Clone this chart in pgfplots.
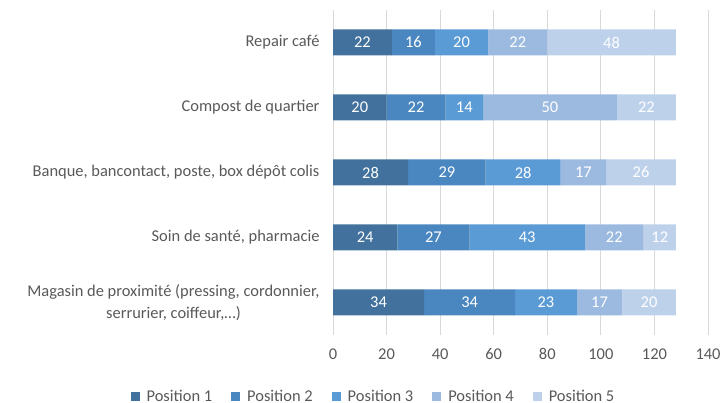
\documentclass[border=0pt]{standalone}
\usepackage{pgfplots}
\pgfplotsset{compat=1.18}
\usepackage{fontspec}
\setmainfont{Carlito}
\definecolor{c1}{HTML}{41719C}
\definecolor{c2}{HTML}{4A86BF}
\definecolor{c3}{HTML}{5B9BD5}
\definecolor{c4}{HTML}{9CBAE0}
\definecolor{c5}{HTML}{BDD1EB}
\definecolor{txt}{HTML}{595959}
\definecolor{gridc}{HTML}{D9D9D9}
\pgfplotstableread{
y p1 p2 p3 p4 p5
0 34 34 23 17 20
1 24 27 43 22 12
2 28 29 28 17 26
3 20 22 14 50 22
4 22 16 20 22 48
}\data
\begin{document}
\begin{tikzpicture}
\useasboundingbox (0,0) rectangle (721bp,403bp);
\begin{axis}[at={(333bp,68bp)}, anchor=south west, scale only axis,
  width=375bp, height=325bp,
  xbar stacked, bar width=26bp,
  xmin=0, xmax=140, ymin=-0.5, ymax=4.5,
  xtick={0,20,...,140}, ytick={0,1,2,3,4},
  yticklabels={{Magasin de proximité (pressing, cordonnier,\\serrurier, coiffeur,\ldots)},
    {Soin de santé, pharmacie},
    {Banque, bancontact, poste, box dépôt colis},
    {Compost de quartier},
    {Repair café}},
  axis line style={draw=none},
  major tick length=0pt,
  xmajorgrids, grid style={gridc, line width=0.75bp},
  tick label style={font=\fontsize{16.5}{22}\selectfont, text=txt},
  yticklabel style={align=center, xshift=-10bp},
  xticklabel style={yshift=-10bp},
  /pgf/number format/assume math mode=true,
  every axis plot/.append style={draw=none},
  visualization depends on=rawx \as \rawx,
  nodes near coords={\pgfmathprintnumber{\rawx}},
  every node near coord/.append style={anchor=center, text=white,
    font=\fontsize{16.5}{20}\selectfont},
  legend style={at={(0.108,-0.188)}, anchor=center, draw=none,
    font=\fontsize{16.5}{20}\selectfont, text=txt,
    /tikz/every odd column/.append style={column sep=5bp},
    /tikz/every even column/.append style={column sep=17bp}},
  legend columns=5,
  legend image code/.code={\fill[#1] (0bp,-4.5bp) rectangle (9bp,4.5bp);},
]
\addplot[fill=c1] table[x=p1,y=y]{\data};
\addplot[fill=c2] table[x=p2,y=y]{\data};
\addplot[fill=c3] table[x=p3,y=y]{\data};
\addplot[fill=c4] table[x=p4,y=y]{\data};
\addplot[fill=c5] table[x=p5,y=y]{\data};
\legend{Position 1,Position 2,Position 3,Position 4,Position 5}
\end{axis}
\end{tikzpicture}
\end{document}
